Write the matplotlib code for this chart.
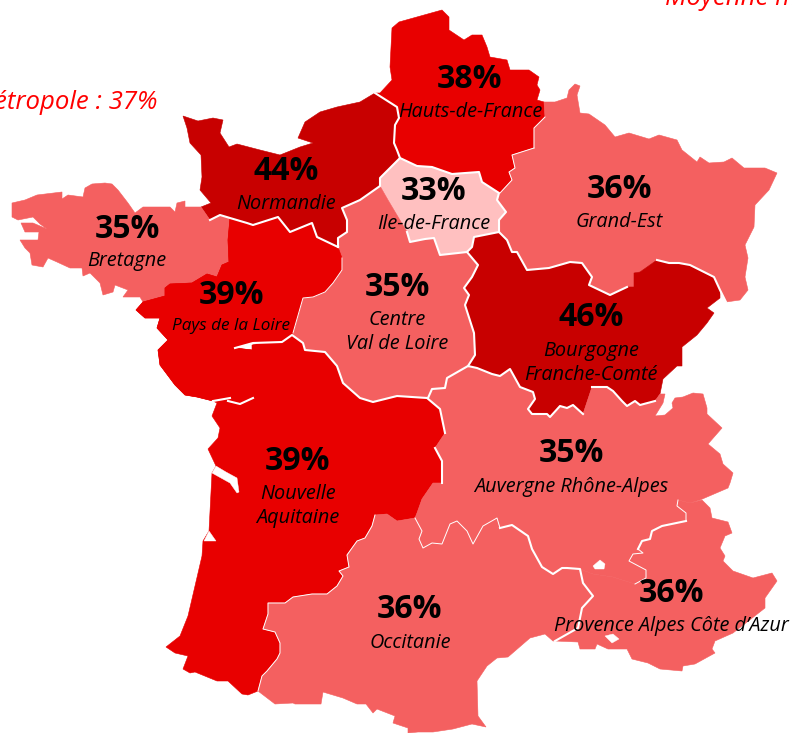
import matplotlib
matplotlib.use("Agg")
import matplotlib.pyplot as plt

plt.rcParams['font.family'] = ['Open Sans', 'DejaVu Sans']

LIGHT, RED, DARK, PINK = '#F46060', '#E80000', '#C80000', '#FFC0C0'

# Region names and values
names = ['Hauts-de-France', 'Normandie', 'Ile-de-France', 'Grand-Est', 'Bretagne', 'Pays de la Loire',
         'Centre\nVal de Loire', 'Bourgogne\nFranche-Comté', 'Nouvelle\nAquitaine',
         'Auvergne Rhône-Alpes', 'Occitanie', 'Provence Alpes Côte d’Azur']
values = [38, 44, 33, 36, 35, 39, 35, 46, 39, 35, 36, 36]
colors = [RED, DARK, PINK, LIGHT, LIGHT, RED, LIGHT, DARK, RED, LIGHT, LIGHT, LIGHT]
pct_xy = [(470, 79), (286, 171), (434, 191), (619, 189), (127, 229), (231, 295),
          (397, 287), (591, 318), (298, 462), (571, 454), (410, 610), (671, 594)]
lab_xy = [(470, 112), (286, 204), (434, 224), (619, 222), (127, 261), (231, 326),
          (397, 332), (591, 363), (298, 506), (571, 487), (410, 643), (671, 626)]
lab_size = [14.3, 14.3, 14.3, 14.3, 14.3, 12.3, 14.3, 14.3, 14.3, 14.3, 14.3, 14.3]

# Outlines
hauts = [(399,22),(442,10),(449,17),(449,30),(464,40),(472,35),(482,35),(487,47),(490,57),(507,60),(510,70),(529,70),
         (539,77),(537,85),(540,90),(537,100),(544,102),(545,117),(534,128),(534,148),(512,155),(515,168),(509,172),
         (512,180),(500,193),(482,182),(479,172),(452,174),(432,167),(417,166),(400,158),(397,150),(394,143),(395,125),
         (399,118),(397,107),(375,93),(380,93),(392,80),(390,67),(392,28)]
normandie = [(183,116),(198,121),(213,118),(223,120),(220,133),(229,147),(237,144),(260,150),(280,155),(300,147),
             (313,143),(298,138),(305,122),(320,112),(337,107),(360,102),(375,93),(397,107),(399,118),(395,125),
             (394,143),(397,150),(400,158),(380,178),(380,186),(360,200),(342,208),(347,220),(347,232),(338,238),
             (338,247),(317,237),(312,223),(290,232),(278,217),(253,225),(247,223),(230,218),(220,215),(210,220),
             (201,207),(211,203),(200,190),(202,177),(201,155),(190,143),(187,128)]
idf = [(400,158),(417,166),(432,167),(452,174),(479,172),(482,182),(499,193),(497,200),(506,212),(499,220),(499,232),
       (474,237),(472,247),(467,252),(440,255),(434,238),(425,239),(410,242),(407,232),(388,200),(380,186),(380,178)]
grand_est = [(544,102),(555,102),(567,98),(569,90),(575,84),(580,86),(577,95),(580,113),(589,114),(605,125),(615,137),
             (629,133),(649,139),(659,135),(677,140),(682,150),(697,162),(700,157),(709,163),(724,162),(732,158),
             (744,168),(765,168),(777,173),(769,190),(755,205),(754,227),(745,245),(748,258),(745,277),(748,290),
             (740,300),(726,302),(720,290),(714,277),(690,265),(679,263),(669,263),(657,260),(640,272),(634,273),
             (634,287),(627,287),(610,295),(589,285),(592,277),(582,263),(570,262),(549,268),(527,270),(517,252),
             (512,252),(507,240),(499,232),(499,220),(506,212),(497,200),(499,193),(500,193),(512,180),(509,172),
             (515,168),(512,155),(534,148),(534,128),(545,117)]
bretagne = [(12,203),(25,200),(37,195),(62,192),(62,199),(68,195),(83,197),(85,188),(92,184),(105,183),(112,184),
            (118,190),(128,203),(135,213),(143,207),(170,207),(175,212),(177,203),(185,201),(185,207),(201,207),
            (210,220),(220,215),(230,218),(228,240),(229,262),(222,265),(217,277),(207,274),(192,283),(170,284),
            (165,288),(165,296),(143,302),(140,297),(123,297),(128,290),(115,285),(113,292),(103,295),(100,283),
            (90,273),(83,276),(82,268),(70,268),(57,262),(48,258),(43,267),(32,265),(30,253),(25,248),(20,240),
            (38,240),(39,232),(25,232),(21,223),(33,223),(47,229),(40,224),(33,217),(18,220),(12,217)]
pays = [(230,218),(247,223),(253,225),(278,217),(290,232),(312,223),(317,237),(338,247),(342,258),(342,270),(333,283),
        (325,292),(313,297),(303,298),(293,333),(292,335),(282,342),(253,343),(235,348),(252,350),(253,398),(240,404),
        (228,401),(213,401),(197,397),(185,395),(175,385),(160,365),(158,350),(168,340),(157,328),(160,318),(145,318),
        (136,310),(143,302),(165,296),(165,288),(170,284),(192,283),(207,274),(217,277),(222,265),(229,262),(228,240)]
centre = [(342,208),(360,200),(380,186),(388,200),(407,232),(410,242),(425,239),(434,238),(440,255),(467,252),(478,265),
          (472,277),(464,288),(469,295),(465,305),(474,333),(475,355),(468,366),(447,378),(445,388),(432,389),(427,398),
          (397,396),(373,402),(360,398),(343,383),(337,366),(325,352),(305,350),(303,343),(292,335),(293,333),(303,298),
          (313,297),(325,292),(333,283),(342,270),(342,258),(338,247),(338,238),(347,232),(347,220)]
bourgogne = [(499,232),(507,240),(512,252),(517,252),(527,270),(549,268),(570,262),(582,263),(592,277),(589,285),(610,295),
             (627,287),(634,287),(634,273),(640,272),(657,260),(669,263),(679,263),(690,265),(714,277),(720,290),(720,298),
             (707,308),(714,313),(707,323),(697,335),(682,347),(682,366),(677,366),(663,379),(660,394),(655,401),(640,405),
             (635,401),(627,406),(622,401),(613,391),(607,387),(592,387),(583,414),(573,405),(567,408),(560,406),(550,417),
             (547,414),(532,414),(528,409),(535,399),(533,392),(520,387),(510,369),(500,376),(492,374),(477,368),(468,366),
             (475,355),(474,333),(465,305),(469,295),(464,288),(472,277),(478,265),(467,252),(472,247),(474,237)]
aquitaine = [(252,345),(292,335),(303,343),(305,350),(325,352),(337,366),(343,383),(360,398),(373,402),(397,396),(427,398),
             (440,409),(445,433),(435,448),(442,461),(442,483),(433,483),(422,499),(417,513),(415,518),(397,521),(387,514),
             (375,515),(372,526),(365,538),(357,541),(347,555),(349,567),(339,571),(343,576),(337,586),(327,594),(312,594),
             (293,597),(285,603),(268,603),(268,614),(263,629),(275,632),(280,643),(280,653),(277,659),(267,671),(262,676),
             (258,691),(248,695),(242,694),(228,681),(217,681),(195,672),(190,673),(183,669),(188,656),(175,653),(166,647),
             (180,636),(188,616),(202,556),(203,541),(209,531),(212,473),(216,466),(208,449),(218,438),(220,428),(212,416),
             (217,403),(213,401),(252,395)]
auvergne = [(427,398),(432,389),(445,388),(447,378),(468,366),(477,368),(492,374),(500,376),(510,369),(520,387),(533,392),
            (535,399),(528,409),(532,414),(547,414),(550,417),(560,406),(567,408),(573,405),(583,414),(592,387),(607,387),
            (613,391),(622,401),(627,406),(635,401),(640,405),(655,401),(660,394),(665,394),(663,403),(655,416),(665,415),
            (673,408),(672,403),(675,398),(683,397),(693,393),(703,394),(707,408),(707,414),(722,428),(708,444),(720,454),
            (723,464),(733,473),(730,483),(728,488),(700,500),(690,503),(678,500),(677,506),(686,513),(686,521),(662,526),
            (652,531),(650,539),(642,541),(638,549),(643,553),(633,554),(629,561),(646,570),(646,578),(635,584),(613,577),
            (593,574),(580,569),(567,568),(562,568),(553,574),(542,567),(532,549),(528,536),(512,525),(500,528),(497,518),
            (483,526),(473,544),(467,531),(457,521),(450,524),(442,544),(432,543),(423,548),(419,539),(422,531),(415,518),
            (417,513),(422,499),(433,483),(442,483),(442,461),(435,448),(445,433),(440,409)]
occitanie = [(375,515),(387,514),(397,521),(415,518),(422,531),(419,539),(423,548),(432,543),(442,544),(450,524),(457,521),
             (467,531),(473,544),(483,526),(497,518),(500,528),(512,525),(528,536),(532,549),(542,567),(553,574),(562,568),
             (567,568),(580,569),(583,583),(593,596),(582,608),(578,628),(555,641),(553,641),(545,634),(530,638),(508,657),
             (497,658),(487,666),(477,681),(478,716),(486,727),(472,724),(453,729),(433,732),(418,732),(408,733),(408,728),
             (393,723),(395,716),(377,709),(373,713),(366,704),(357,704),(343,698),(323,692),(321,704),(295,704),(293,703),
             (275,704),(258,691),(262,676),(267,671),(277,659),(280,653),(280,643),(275,632),(263,629),(268,614),(268,603),
             (285,603),(293,597),(312,594),(327,594),(337,586),(343,576),(339,571),(349,567),(347,555),(357,541),(365,538),
             (372,526)]
paca = [(580,569),(593,574),(613,577),(635,584),(646,578),(646,570),(629,561),(633,554),(643,553),(638,549),(642,541),
        (650,539),(652,531),(662,526),(686,521),(686,513),(677,506),(678,500),(690,503),(702,500),(710,508),(712,518),
        (728,522),(732,533),(725,536),(720,548),(725,556),(723,561),(733,571),(753,578),(772,573),(777,581),(765,598),
        (765,608),(733,633),(715,641),(712,649),(715,653),(695,664),(683,666),(682,671),(660,669),(648,663),(632,659),
        (627,649),(608,649),(597,644),(595,649),(580,649),(578,642),(555,641),(578,628),(582,608),(593,596),(583,583)]
outlines = [hauts, normandie, idf, grand_est, bretagne, pays, centre, bourgogne, aquitaine, auvergne, occitanie, paca]

gironde = [(216,466),(226,472),(237,478),(239,492),(237,493),(230,483),(212,473)]
arcachon = [(209,531),(216,541),(204,541)]
etang = [(593,566),(600,560),(605,564),(604,569),(595,569)]
rade = [(605,636),(613,634),(619,639),(612,643)]
holes = [gironde, arcachon, etang, rade]

seams_thick = [
    [(375,93),(397,107),(399,118),(395,125),(394,143),(397,150),(400,158),(380,178),(380,186),(360,200),(342,208),
     (347,220),(347,232),(338,238),(338,247)],
    [(210,220),(220,215),(230,218),(247,223),(253,225),(278,217),(290,232),(312,223),(317,237),(338,247)],
    [(235,348),(253,343),(282,342),(292,335),(303,343),(305,350),(325,352),(337,366),(343,383),(360,398),(373,402),
     (397,396),(427,398),(440,409),(445,433)],
    [(213,401),(230,398)],
    [(228,401),(240,404),(253,398)],
    [(435,448),(442,461),(442,483)],
    [(400,158),(417,166),(432,167),(452,174),(479,172),(482,182),(499,193),(497,200),(506,212),(499,220),(499,232),
     (474,237),(472,247),(467,252),(440,255),(434,238),(425,239),(410,242),(407,232)],
    [(499,232),(507,240),(512,252),(517,252),(527,270),(549,268),(570,262),(582,263),(592,277),(589,285),(610,295),
     (627,287)],
    [(657,260),(669,263),(679,263),(690,265),(714,277),(720,290),(726,302)],
    [(467,252),(478,265),(472,277),(464,288),(469,295),(465,305),(474,333),(475,355),(468,366)],
    [(428,398),(432,389),(445,388),(447,378),(468,366),(477,368),(492,374),(500,376),(510,369),(520,387),(533,392),
     (535,399),(528,409),(532,414),(547,414),(550,417),(560,406),(567,408),(573,405),(583,414)],
    [(592,387),(607,387),(613,391),(622,401),(627,406),(635,401),(640,405),(655,401)],
    [(500,528),(512,525),(528,536),(532,549),(542,567),(553,574),(562,568),(567,568),(580,569),(583,583),(593,596),
     (582,608),(578,628),(555,641)],
    [(686,521),(662,526),(652,531),(650,539),(642,541),(638,549)],
]
seams_thin = [
    [(342,258),(342,270),(333,283),(325,292),(313,297),(303,298),(293,333)],
    [(534,148),(512,155),(515,168),(509,172),(512,180),(500,193)],
    [(545,117),(534,128),(534,148)],
    [(375,515),(372,526),(365,538),(357,541),(347,555),(349,567),(339,571),(343,576),(337,586),(327,594),(312,594),
     (293,597),(285,603),(268,603),(268,614),(263,629),(275,632),(280,643),(280,653),(277,659),(267,671),(262,676),(258,691)],
    [(415,518),(422,531),(419,539),(423,548),(432,543),(442,544),(450,524),(457,521),(467,531),(473,544),(483,526),(497,518),(500,528)],
    [(678,500),(677,506),(686,513),(686,521)],
    [(638,549),(643,553),(633,554),(629,561),(646,570),(646,578),(635,584)],
]

fig = plt.figure(figsize=(7.92, 7.33), dpi=100)
ax = fig.add_axes([0, 0, 1, 1])
ax.set_xlim(0, 792)
ax.set_ylim(733, 0)
ax.axis('off')

for outline, color in zip(outlines, colors):
    xs, ys = zip(*outline)
    ax.fill(xs, ys, facecolor=color, edgecolor=color, linewidth=0.4, zorder=1)
# same-coloured Pays de la Loire redrawn so that it merges into Nouvelle-Aquitaine
xs, ys = zip(*pays)
ax.fill(xs, ys, facecolor=RED, edgecolor=RED, linewidth=0.4, zorder=1.1)

for hole in holes:
    xs, ys = zip(*hole)
    ax.fill(xs, ys, facecolor='white', edgecolor='white', linewidth=0.3, zorder=2)

for seam in seams_thick:
    xs, ys = zip(*seam)
    ax.plot(xs, ys, color='white', linewidth=1.5, zorder=3, solid_joinstyle='round')
for seam in seams_thin:
    xs, ys = zip(*seam)
    ax.plot(xs, ys, color='white', linewidth=0.7, zorder=3, solid_joinstyle='round')

for v, (px, py), name, (lx, ly), s in zip(values, pct_xy, names, lab_xy, lab_size):
    ax.text(px, py, f'{v}%', ha='center', va='center', fontsize=23, fontweight='bold', color='black', zorder=5)
    ax.text(lx, ly, name, ha='center', va='center', fontsize=s, style='italic', color='black', zorder=5,
            linespacing=1.3)

ax.text(158, 109, 'étropole : 37%', ha='right', va='baseline', fontsize=18.5, style='italic', color='#FF0000')
ax.text(665, 5, 'Moyenne m', ha='left', va='baseline', fontsize=18.5, style='italic', color='#FF0000')

fig.savefig('out.png', dpi=100)
